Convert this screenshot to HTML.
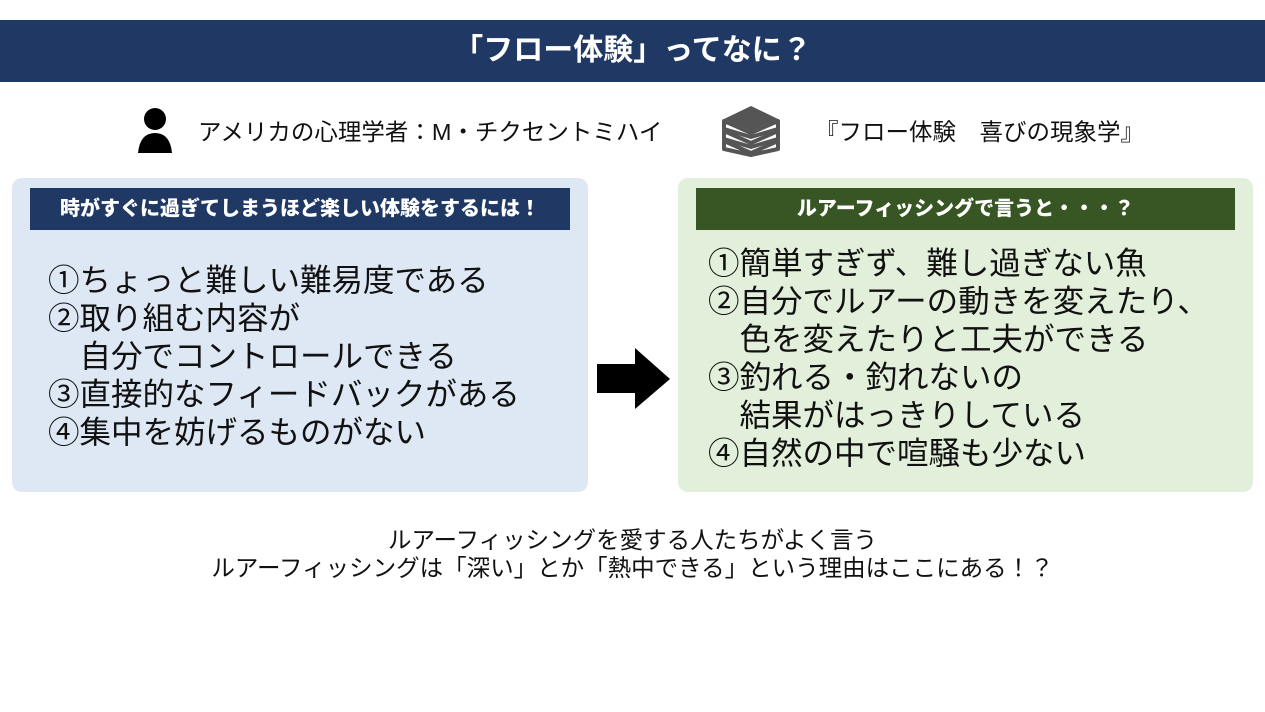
<!DOCTYPE html>
<html><head><meta charset="utf-8"><style>
body{margin:0;width:1265px;height:712px;background:#fff;position:relative;overflow:hidden;font-family:"Liberation Sans","Noto Sans CJK JP",sans-serif;}
.a{position:absolute;white-space:nowrap;}
.title{left:0;top:20px;width:1265px;height:62px;background:#203864;color:#fff;font-weight:bold;font-size:30px;line-height:62px;text-align:center;}
.box{position:absolute;top:178px;height:314px;border-radius:10px;}
.hd{position:absolute;top:188px;height:42px;color:#fff;font-weight:900;font-size:20px;line-height:42px;text-align:center;}
.ln{font-size:31.5px;line-height:38px;color:#111;}
</style></head><body>
<div class="a title">「フロー体験」ってなに？</div>
<svg class="a" style="left:136px;top:106px" width="38" height="48"><circle cx="19" cy="13" r="11" fill="#000"/><path d="M2 47 Q4 27 19 27 Q34 27 36 47Z" fill="#000"/></svg>
<div class="a" style="left:198px;top:118px;font-size:23.5px;line-height:28px;color:#111">アメリカの心理学者：M・チクセントミハイ</div>
<svg class="a" style="left:720px;top:103px" width="62" height="54">
<g fill="#fff" stroke="#555" stroke-width="4" stroke-linejoin="round">
<path d="M4 38 L31 50 L58 38 L58 46 L31 52 L4 46Z"/>
<path d="M4 28 L31 40 L58 28 L58 36 L31 44 L4 36Z"/>
<path d="M4 18 L31 30 L58 18 L58 26 L31 34 L4 26Z"/>
</g>
<path d="M4 16 L31 3 L58 16 L31 28Z" fill="#555"/></svg>
<div class="a" style="left:815px;top:118px;font-size:23.5px;line-height:28px;color:#111">『フロー体験　喜びの現象学』</div>
<div class="box" style="left:12px;width:576px;background:#dde8f4"></div>
<div class="hd" style="left:30px;width:540px;background:#203864">時がすぐに過ぎてしまうほど楽しい体験をするには！</div>
<div class="a ln" style="left:48px;top:261px">①ちょっと難しい難易度である<br>②取り組む内容が<br>　自分でコントロールできる<br>③直接的なフィードバックがある<br>④集中を妨げるものがない</div>
<svg class="a" style="left:597px;top:348px" width="74" height="62"><path d="M0 16 H38 V0 L73 31 L38 61 V45 H0Z" fill="#000"/></svg>
<div class="box" style="left:678px;width:575px;background:#e2efda"></div>
<div class="hd" style="left:696px;width:539px;background:#375623">ルアーフィッシングで言うと・・・？</div>
<div class="a ln" style="left:708px;top:244px">①簡単すぎず、難し過ぎない魚<br>②自分でルアーの動きを変えたり、<br>　色を変えたりと工夫ができる<br>③釣れる・釣れないの<br>　結果がはっきりしている<br>④自然の中で喧騒も少ない</div>
<div class="a" style="left:0;width:1265px;top:526px;text-align:center;font-size:23.5px;line-height:28px;color:#111">ルアーフィッシングを愛する人たちがよく言う<br>ルアーフィッシングは「深い」とか「熱中できる」という理由はここにある！？</div>
</body></html>
